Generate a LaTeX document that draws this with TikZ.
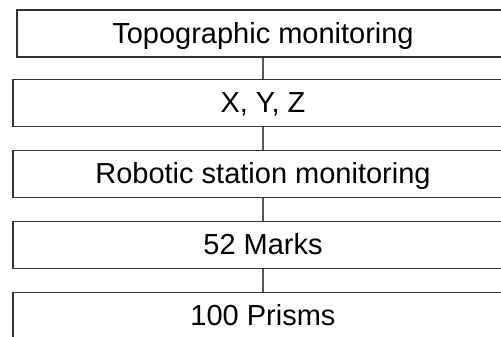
\documentclass[tikz,border=0pt]{standalone}
\usepackage{fontspec}
\setmainfont{Liberation Sans}
\tikzstyle{level} = [rectangle, draw = black!80, line width = 0.7pt, minimum width = 10cm, minimum height = 0.94cm, inner sep = 0pt, text centered, text height = 11pt, text depth = 0pt, font = \fontsize{16.5}{19}\selectfont]
\tikzstyle{link} = [line width = 0.6pt, -, draw = black!65]

\begin{document}
\begin{tikzpicture}[node distance = 1.42cm]
    \useasboundingbox (0, 0) rectangle (10.02, -6.72);
    \node(topo)[level, minimum width = 9.84cm] at (5.26, -0.67) {Topographic monitoring};
    \node(xyz)[level, below of = topo, yshift = 0.03cm]{X, Y, Z};
    \node(robotic)[level, below of = xyz]{Robotic station monitoring};
    \node(marks)[level, below of = robotic]{52 Marks};
    \node(prisms)[level, below of = marks]{100 Prisms};
    \draw[link] (topo) -- (xyz);
    \draw[link] (xyz) -- (robotic);
    \draw[link] (robotic) -- (marks);
    \draw[link] (marks) -- (prisms);
\end{tikzpicture}
\end{document}
